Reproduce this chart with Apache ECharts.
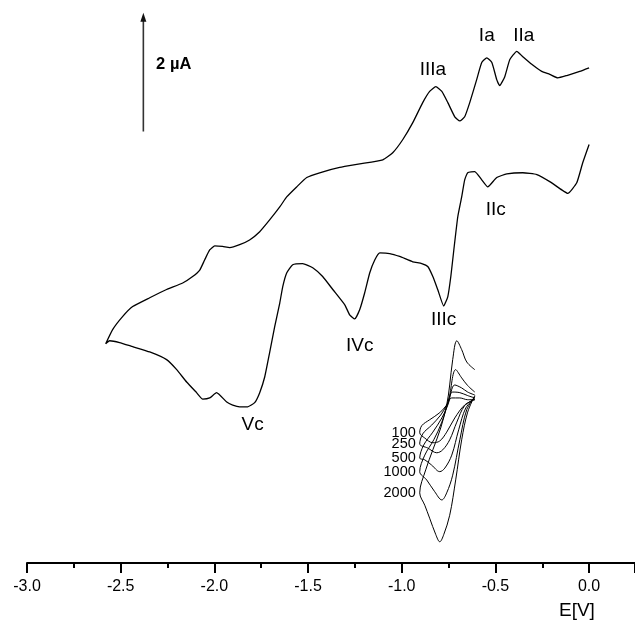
<!DOCTYPE html>
<html>
<head>
<meta charset="utf-8">
<script src="https://cdn.jsdelivr.net/npm/echarts@6/dist/echarts.min.js"></script>
<style>
html,body{margin:0;padding:0;background:#fff;}
#c{width:635px;height:624px;}
</style>
</head>
<body>
<div id="c"></div>
<script>
// Potential axis ticks
const xTicks = [-3.0, -2.5, -2.0, -1.5, -1.0, -0.5, 0.0];

// Main CV: cathodic (lower) branch, scanned from 0 V to -2.58 V
const lowerE = [0.000,-0.034,-0.066,-0.114,-0.146,-0.210,-0.279,-0.354,-0.439,-0.493,-0.541,-0.573,-0.610,-0.648,-0.664,-0.680,-0.701,-0.722,-0.738,-0.754,-0.776,-0.808,-0.834,-0.861,-0.893,-0.941,-1.011,-1.064,-1.117,-1.144,-1.171,-1.198,-1.224,-1.251,-1.278,-1.304,-1.368,-1.422,-1.475,-1.529,-1.582,-1.614,-1.635,-1.651,-1.678,-1.705,-1.731,-1.758,-1.785,-1.822,-1.865,-1.902,-1.934,-1.988,-2.025,-2.062,-2.095,-2.148,-2.201,-2.255,-2.345,-2.436,-2.506,-2.559,-2.580];
const lowerI = [7.10,6.79,6.45,6.27,6.33,6.47,6.59,6.62,6.60,6.54,6.38,6.50,6.64,6.62,6.50,6.21,5.87,5.31,4.86,4.52,4.36,4.64,4.86,5.03,5.08,5.11,5.20,5.25,5.26,5.14,4.92,4.58,4.30,4.14,4.21,4.38,4.64,4.86,5.01,5.08,5.06,4.92,4.69,4.41,4.01,3.57,3.16,2.89,2.72,2.65,2.65,2.68,2.73,2.89,2.80,2.78,2.89,3.07,3.28,3.45,3.58,3.67,3.74,3.77,3.72];
// Main CV: anodic (upper) branch, from -2.58 V back to 0 V
const upperE = [-2.580,-2.543,-2.490,-2.436,-2.345,-2.255,-2.169,-2.116,-2.078,-2.052,-2.025,-1.998,-1.956,-1.918,-1.865,-1.812,-1.758,-1.705,-1.651,-1.614,-1.561,-1.507,-1.438,-1.331,-1.224,-1.101,-1.048,-0.995,-0.941,-0.888,-0.851,-0.818,-0.786,-0.754,-0.717,-0.690,-0.664,-0.637,-0.600,-0.573,-0.546,-0.519,-0.493,-0.477,-0.450,-0.423,-0.386,-0.354,-0.306,-0.253,-0.210,-0.167,-0.119,-0.050,0.000];
const upperI = [3.72,3.96,4.18,4.35,4.50,4.64,4.75,4.86,4.97,5.14,5.31,5.38,5.37,5.35,5.40,5.48,5.62,5.82,6.04,6.21,6.38,6.54,6.62,6.71,6.77,6.84,6.96,7.18,7.47,7.81,8.00,8.08,8.00,7.81,7.57,7.50,7.57,7.81,8.20,8.49,8.57,8.49,8.20,8.10,8.25,8.54,8.68,8.59,8.46,8.34,8.29,8.23,8.27,8.34,8.40];

// Inset: CVs at several scan rates (labels)
const insetRates = ['100','250','500','1000','2000'];
const insetE_100 = [-0.610,-0.664,-0.717,-0.760,-0.797,-0.834,-0.877,-0.904,-0.893,-0.851,-0.797,-0.760,-0.733,-0.690,-0.648,-0.610];
const insetI_100 = [2.77,2.68,2.46,2.22,2.07,2.04,2.12,2.21,2.33,2.43,2.55,2.68,2.80,2.80,2.77,2.77];
const insetE_250 = [-0.610,-0.664,-0.706,-0.744,-0.781,-0.813,-0.861,-0.904,-0.888,-0.840,-0.792,-0.760,-0.728,-0.690,-0.648,-0.610];
const insetI_250 = [2.78,2.67,2.39,2.09,1.92,1.87,1.95,2.02,2.19,2.34,2.51,2.68,2.90,2.89,2.84,2.80];
const insetE_500 = [-0.610,-0.658,-0.696,-0.733,-0.770,-0.797,-0.840,-0.877,-0.904,-0.883,-0.834,-0.786,-0.754,-0.717,-0.680,-0.648,-0.610];
const insetI_500 = [2.80,2.63,2.26,1.83,1.61,1.55,1.66,1.75,1.78,2.00,2.22,2.46,2.68,3.02,2.97,2.90,2.85];
const insetE_1000 = [-0.610,-0.653,-0.690,-0.728,-0.760,-0.786,-0.824,-0.867,-0.904,-0.877,-0.829,-0.786,-0.749,-0.712,-0.680,-0.648,-0.610];
const insetI_1000 = [2.82,2.60,2.09,1.49,1.19,1.07,1.21,1.41,1.55,1.83,2.09,2.39,2.77,3.28,3.14,3.01,2.90];
const insetE_2000 = [-0.610,-0.648,-0.680,-0.712,-0.744,-0.776,-0.797,-0.818,-0.851,-0.877,-0.904,-0.872,-0.834,-0.792,-0.760,-0.744,-0.728,-0.706,-0.680,-0.653,-0.610];
const insetI_2000 = [2.84,2.56,2.09,1.41,0.81,0.48,0.36,0.48,0.76,0.98,1.19,1.58,1.92,2.29,2.68,3.02,3.45,3.77,3.62,3.41,3.28];
const insetLabelE = -0.925;
const insetLabelI = [2.21,2.02,1.78,1.55,1.19];

// Peak labels
const peakNames = ['IIIa','Ia','IIa','IIc','IIIc','IVc','Vc'];
const peakE = [-0.834,-0.546,-0.349,-0.498,-0.776,-1.224,-1.796];
const peakI = [8.37,8.95,8.95,5.99,4.13,3.68,2.34];

// Scale bar (2 µA)
const scaleE = -2.379;
const scaleI = [7.32, 9.26];
const scaleText = '2 \u00b5A';
const scaleTextE = -2.217, scaleTextI = 8.46;

const zip = (a, b) => a.map((v, i) => [v, b[i]]);
const FONT = 'Liberation Sans, Arial, Helvetica, sans-serif';

const chart = echarts.init(document.getElementById('c'), null, {renderer: 'canvas'});

const mainData = zip(lowerE, lowerI).concat(zip(upperE, upperI));
const insetSets = [
  zip(insetE_100, insetI_100), zip(insetE_250, insetI_250), zip(insetE_500, insetI_500),
  zip(insetE_1000, insetI_1000), zip(insetE_2000, insetI_2000)
];

const textLabel = (size, extra) => Object.assign({
  show: true, formatter: p => p.name, fontFamily: FONT, fontSize: size,
  color: '#000', textBorderWidth: 0, opacity: 1
}, extra || {});

const series = [];
series.push({
  type: 'line', name: 'CV', data: mainData, showSymbol: false, symbol: 'none',
  smooth: 0.15, lineStyle: {color: '#000', width: 1.3}, silent: true
});
insetSets.forEach((d, k) => {
  series.push({
    type: 'line', name: insetRates[k], data: d, showSymbol: false, symbol: 'none',
    smooth: 0.35, lineStyle: {color: '#000', width: 1}, silent: true
  });
});
series.push({
  type: 'scatter', symbolSize: 0, silent: true,
  data: insetRates.map((r, k) => ({value: [insetLabelE, insetLabelI[k]], name: r})),
  label: textLabel(14.5, {position: 'left', distance: 0})
});
series.push({
  type: 'scatter', symbolSize: 0, silent: true,
  data: peakNames.map((n, k) => ({value: [peakE[k], peakI[k]], name: n})),
  label: textLabel(19, {position: 'inside'})
});
series.push({
  type: 'line', silent: true,
  data: [{value: [scaleE, scaleI[0]], symbol: 'none'},
         {value: [scaleE, scaleI[1]], symbol: 'triangle', symbolSize: [6, 9]}],
  showSymbol: true, showAllSymbol: true,
  lineStyle: {color: '#333', width: 1.6}, itemStyle: {color: '#111'}
});
series.push({
  type: 'scatter', symbolSize: 0, silent: true,
  data: [{value: [scaleTextE, scaleTextI], name: scaleText}],
  label: textLabel(16.5, {position: 'inside', fontWeight: 'bold'})
});

chart.setOption({
  animation: false,
  backgroundColor: '#fff',
  grid: {left: 27, top: 3, width: 608, height: 560},
  xAxis: {
    type: 'value', min: xTicks[0], max: 0.245, interval: 0.5,
    axisLine: {show: true, onZero: false, lineStyle: {color: '#000', width: 2}},
    axisTick: {show: true, inside: false, length: 10, lineStyle: {color: '#000', width: 2}},
    minorTick: {show: true, splitNumber: 2, length: 5, lineStyle: {color: '#000', width: 2}},
    axisLabel: {margin: 16, fontFamily: FONT, fontSize: 16, color: '#000',
                showMaxLabel: false,
                formatter: v => xTicks.some(t => Math.abs(t - v) < 1e-6) ? v.toFixed(1) : ''},
    splitLine: {show: false}, minorSplitLine: {show: false}
  },
  yAxis: {type: 'value', min: 0, max: 9.5, show: false, splitLine: {show: false}},
  graphic: [{
    type: 'text', left: 559, top: 601,
    style: {text: 'E[V]', font: '19px ' + FONT, fill: '#000'}
  }],
  series: series
});
</script>
</body>
</html>
